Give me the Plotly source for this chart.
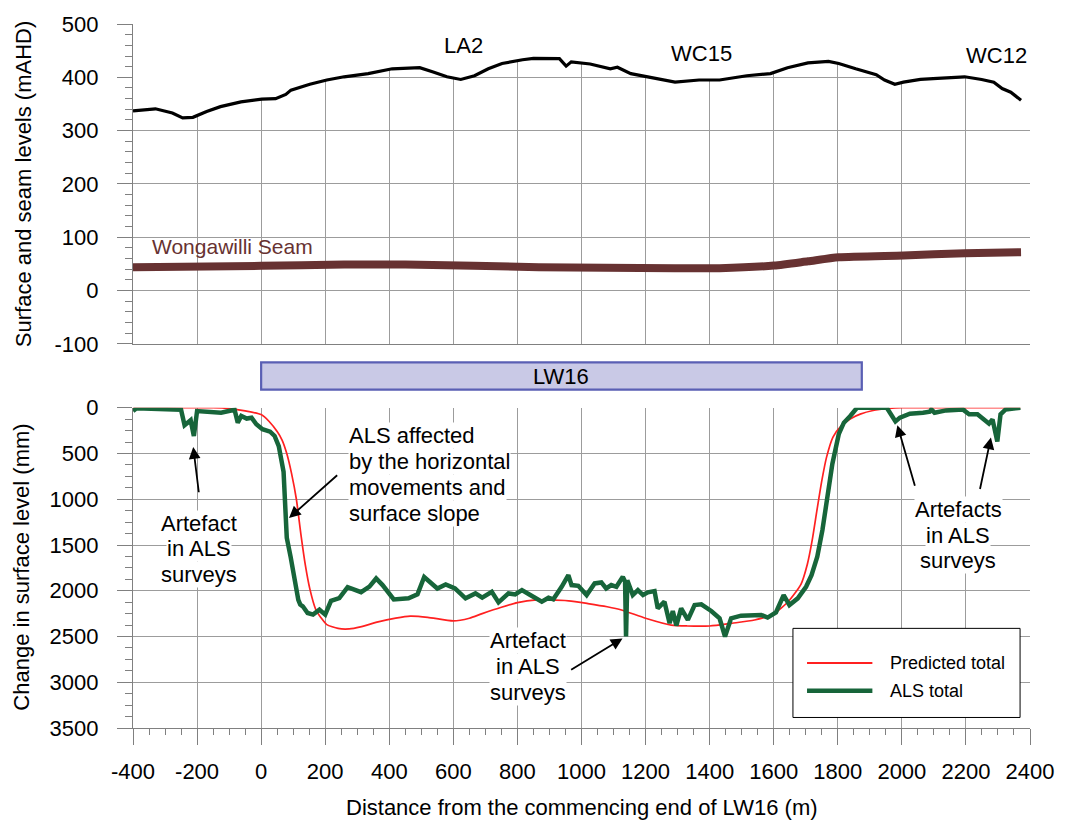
import plotly.graph_objects as go

# ---------------- data ----------------
# Surface profile along the centreline (mAHD)
surf_x = [-400, -373, -330, -277, -245, -213, -170, -127, -63, 2,
          45, 77, 93, 152, 205, 259, 334, 409, 495, 537,
          580, 623, 666, 709, 752, 816, 850, 931, 952, 968,
          1027, 1090, 1112, 1154, 1207, 1292, 1367, 1431, 1516, 1590,
          1643, 1707, 1771, 1803, 1856, 1920, 1946, 1978, 2005, 2058,
          2111, 2196, 2249, 2287, 2313, 2340, 2372]
surf_y = [337, 339, 341, 333, 324, 325, 336, 345, 354, 359,
          360, 368, 376, 387, 395, 401, 407, 416, 418, 410,
          401, 396, 403, 416, 426, 433, 435.5, 435, 421, 429,
          425, 416, 419, 407, 401, 391, 395, 395, 403, 407,
          418, 427, 430, 426, 416, 405, 395, 387, 391, 396,
          398, 401, 396, 391, 379, 372, 357]

# Wongawilli Seam floor level (mAHD)
seam_x = [-400, 0, 259, 450, 867, 1292, 1431, 1601, 1707, 1803, 2005, 2196, 2372]
seam_y = [44, 46.5, 49, 49, 44, 42, 42, 47, 55, 62.5, 66, 70, 72]

# Predicted total subsidence (mm)
pred_x = [-400, -150, -100, -50, 0, 25, 50, 65, 80, 95,
          110, 124, 138, 152, 170, 190, 205, 240, 275, 310,
          365, 420, 465, 520, 600, 650, 690, 750, 800, 860,
          900, 960, 1020, 1080, 1125, 1200, 1280, 1330, 1400, 1470,
          1540, 1600, 1645, 1685, 1705, 1720, 1735, 1750, 1765, 1785,
          1810, 1840, 1870, 1910, 1960, 2000, 2370]
pred_y = [0, 0, 10, 35, 75, 150, 260, 350, 500, 720,
          1000, 1380, 1720, 1980, 2200, 2310, 2370, 2412, 2417, 2395,
          2340, 2300, 2278, 2290, 2330, 2300, 2250, 2180, 2130, 2100,
          2100, 2110, 2140, 2175, 2210, 2300, 2375, 2385, 2385, 2355,
          2320, 2250, 2120, 1930, 1710, 1450, 1120, 800, 540, 320,
          200, 120, 70, 30, 8, 0, 0]

# ALS measured total subsidence (mm)
als_x = [-400, -389, -250, -239, -220, -210, -200, -170, -125, -83,
         -73, -62, -45, -30, -15, 4, 28, 42, 55, 70,
         76, 80, 92, 104, 116, 122, 130, 145, 162, 182,
         200, 218, 244, 270, 312, 338, 359, 379, 414, 460,
         488, 509, 524, 550, 576, 605, 638, 669, 690, 720,
         741, 772, 793, 814, 840, 876, 897, 912, 938, 959,
         969, 990, 1016, 1041, 1062, 1077, 1093, 1109, 1129, 1136,
         1139, 1143, 1160, 1176, 1192, 1207, 1228, 1238, 1259, 1275,
         1285, 1296, 1311, 1322, 1332, 1353, 1374, 1405, 1431, 1448,
         1467, 1498, 1561, 1581, 1607, 1631, 1649, 1675, 1701, 1718,
         1736, 1752, 1767, 1783, 1803, 1819, 1839, 1860, 1953, 1968,
         1980, 1994, 2025, 2066, 2087, 2092, 2102, 2138, 2190, 2210,
         2236, 2262, 2272, 2283, 2291, 2298, 2308, 2324, 2370]
als_y = [36, 5, 22, 190, 136, 308, 36, 45, 54, 22,
         163, 90, 118, 109, 181, 235, 262, 308, 420, 700,
         1040, 1420, 1630, 1880, 2100, 2150, 2170, 2243, 2261, 2207,
         2261, 2110, 2080, 1960, 2015, 1955, 1866, 1938, 2095, 2083,
         2040, 1850, 1902, 1975, 1931, 1975, 2083, 2029, 2076, 2011,
         2127, 2029, 2040, 1993, 2047, 2120, 2076, 2094, 1957, 1830,
         1938, 1946, 2047, 1920, 1909, 1975, 1938, 1957, 1848, 1900,
         2500, 1885, 2047, 1993, 2047, 2018, 2004, 2192, 2120, 2355,
         2221, 2380, 2192, 2264, 2319, 2156, 2149, 2221, 2301, 2500,
         2301, 2272, 2264, 2293, 2236, 2047, 2156, 2083, 1957, 1830,
         1627, 1338, 976, 615, 289, 163, 90, 0, 0, 90,
         150, 108, 65, 54, 43, 18, 54, 29, 18, 72,
         72, 145, 174, 127, 271, 370, 72, 18, 0]

# Longwall panel extent (m from commencing end)
panel_start, panel_end = 0, 1875

# Tick positions and labels
x_ticks = list(range(-400, 2401, 200))
x_ticktext = [str(v) for v in x_ticks]
top_ticks = list(range(-100, 501, 100))
top_ticktext = [str(v) for v in top_ticks]
bot_ticks = list(range(0, 3501, 500))
bot_ticktext = [str(v) for v in bot_ticks]

X_RANGE = [-400, 2400]
TOP_RANGE = [-100, 500]
BOT_RANGE = [3500, 0]

FONT = "Arial, 'Liberation Sans', sans-serif"
GRID = "#9c9c9c"
AXIS = "#808080"
GREEN = "#17653a"
RED = "#ff2020"
SEAM = "#673232"

TOP_DOMAIN = [0.5455, 1]
BOT_DOMAIN = [0, 0.4549]

fig = go.Figure()

# White mask above the ground profile so the grid only shows beneath it
mask_x = surf_x + [2430, 2430, -430, -430]
mask_y = surf_y + [surf_y[-1], 530, 530, surf_y[0]]
fig.add_trace(go.Scatter(x=mask_x, y=mask_y, mode="lines", fill="toself",
                         fillcolor="white", line=dict(width=0),
                         xaxis="x", yaxis="y", hoverinfo="skip"))

fig.add_trace(go.Scatter(x=seam_x, y=seam_y, mode="lines", name="Wongawilli Seam",
                         line=dict(color=SEAM, width=8, shape="spline", smoothing=0.6),
                         xaxis="x", yaxis="y"))
fig.add_trace(go.Scatter(x=surf_x, y=surf_y, mode="lines", name="Surface",
                         line=dict(color="black", width=3.2),
                         xaxis="x", yaxis="y"))

fig.add_trace(go.Scatter(x=pred_x, y=pred_y, mode="lines", name="Predicted total",
                         line=dict(color=RED, width=1.7, shape="spline", smoothing=0.6),
                         xaxis="x2", yaxis="y2"))
fig.add_trace(go.Scatter(x=als_x, y=als_y, mode="lines", name="ALS total",
                         line=dict(color=GREEN, width=4.5),
                         xaxis="x2", yaxis="y2"))

top_minor = [v for v in range(-100, 501, 20) if v % 100]
bot_minor = [v for v in range(0, 3501, 125) if v % 500]
x_minor = [v for v in range(-400, 2401, 50) if v % 200]

yaxis_common = dict(tickmode="array", ticks="outside", ticklen=15, tickwidth=1.3,
                    tickcolor=AXIS, ticklabelstandoff=14,
                    showgrid=True, gridcolor=GRID, gridwidth=1.2,
                    showline=True, linecolor=AXIS, linewidth=1.3, zeroline=False)

fig.update_layout(
    width=1066, height=823,
    margin=dict(l=133, r=32, t=18, b=95),
    plot_bgcolor="white", paper_bgcolor="white",
    font=dict(family=FONT, size=22, color="black"),
    showlegend=False,
    xaxis=dict(domain=[0, 1], anchor="y", range=X_RANGE, tickmode="array",
               tickvals=x_ticks, showticklabels=False, ticks="",
               showgrid=True, gridcolor=GRID, gridwidth=1.2,
               showline=True, linecolor=AXIS, linewidth=1.3, zeroline=False),
    yaxis=dict(domain=TOP_DOMAIN, anchor="x", range=TOP_RANGE,
               tickvals=top_ticks, ticktext=top_ticktext,
               minor=dict(tickvals=top_minor, ticks="outside", ticklen=7,
                          tickwidth=1.2, tickcolor=AXIS, showgrid=False),
               **yaxis_common),
    xaxis2=dict(domain=[0, 1], anchor="y2", range=X_RANGE, tickmode="array",
                tickvals=x_ticks, ticktext=x_ticktext,
                ticks="outside", ticklen=16, tickwidth=1.3, tickcolor=AXIS,
                ticklabelstandoff=7,
                showgrid=True, gridcolor=GRID, gridwidth=1.2,
                showline=True, linecolor=AXIS, linewidth=1.3, zeroline=False,
                minor=dict(tickvals=x_minor, ticks="outside", ticklen=6,
                           tickwidth=1.2, tickcolor=AXIS, showgrid=False)),
    yaxis2=dict(domain=BOT_DOMAIN, anchor="x2", range=BOT_RANGE,
                tickvals=bot_ticks, ticktext=bot_ticktext,
                minor=dict(tickvals=bot_minor, ticks="outside", ticklen=7,
                           tickwidth=1.2, tickcolor=AXIS, showgrid=False),
                **yaxis_common),
)

# Axis titles
fig.add_annotation(text="Surface and seam levels (mAHD)", xref="paper", yref="paper",
                   x=-0.1221, y=0.7732, textangle=-90, showarrow=False,
                   xanchor="center", yanchor="middle", font=dict(size=22))
fig.add_annotation(text="Change in surface level (mm)", xref="paper", yref="paper",
                   x=-0.1245, y=0.2282, textangle=-90, showarrow=False,
                   xanchor="center", yanchor="middle", font=dict(size=22))
fig.add_annotation(text="Distance from the commencing end of LW16 (m)", xref="paper",
                   yref="paper", x=0.5, y=-0.1127, showarrow=False,
                   xanchor="center", yanchor="middle", font=dict(size=22))

# Panel bar
fig.add_shape(type="rect", xref="x2", yref="paper", x0=panel_start, x1=panel_end,
              y0=0.4807, y1=0.5193, fillcolor="#c9c9e6",
              line=dict(color="#5a5fb4", width=2.2))
fig.add_annotation(text="LW16", xref="x2", yref="paper",
                   x=(panel_start + panel_end) / 2, y=0.5, showarrow=False,
                   xanchor="center", yanchor="middle", font=dict(size=22))

# Creek / feature labels on the surface profile
for label, lx, ly in [("LA2", 631, 460), ("WC15", 1376, 445), ("WC12", 2296, 441)]:
    fig.add_annotation(text=label, x=lx, y=ly, xref="x", yref="y", showarrow=False,
                       xanchor="center", yanchor="middle", font=dict(size=22))
fig.add_annotation(text="Wongawilli Seam", x=-347, y=82, xref="x", yref="y",
                   showarrow=False, xanchor="left", yanchor="middle",
                   font=dict(size=21, color=SEAM))


def text_block(lines, x, y, spacing=25.6, xanchor="center"):
    n = len(lines)
    for i, line in enumerate(lines):
        fig.add_annotation(text=line, x=x, y=y, xref="x2", yref="y2",
                           showarrow=False, xanchor=xanchor, yanchor="middle",
                           yshift=((n - 1) / 2 - i) * spacing,
                           font=dict(size=22), bgcolor="white", borderpad=0)


def arrow(tail_x, tail_y, head_x, head_y):
    fig.add_annotation(text="", x=head_x, y=head_y, ax=tail_x, ay=tail_y,
                       xref="x2", yref="y2", axref="x2", ayref="y2",
                       showarrow=True, arrowhead=2, arrowsize=1.3,
                       arrowwidth=1.8, arrowcolor="black")


text_block(["Artefact", "in ALS", "surveys"], -194, 1540)
arrow(-194, 940, -212, 430)

text_block(["ALS affected", "by the horizontal", "movements and", "surface slope"],
           271, 733, spacing=25.9, xanchor="left")
arrow(242, 723, 87, 1205)

text_block(["Artefact", "in ALS", "surveys"], 833, 2833, spacing=26)
arrow(963, 2874, 1128, 2522)

text_block(["Artefacts", "in ALS", "surveys"], 2176, 1392, spacing=25.5)
arrow(2042, 868, 1986, 190)
arrow(2243, 904, 2278, 325)

# Legend box
fig.add_shape(type="rect", xref="x2", yref="y2", x0=1660, x1=2369, y0=2411, y1=3385,
              fillcolor="white", line=dict(color="black", width=1), layer="above")
fig.add_shape(type="line", xref="x2", yref="y2", x0=1704, x1=1908, y0=2790, y1=2790,
              line=dict(color=RED, width=2), layer="above")
fig.add_shape(type="line", xref="x2", yref="y2", x0=1704, x1=1908, y0=3093, y1=3093,
              line=dict(color=GREEN, width=4.5), layer="above")
fig.add_annotation(text="Predicted total", x=1958, y=2790, xref="x2", yref="y2",
                   showarrow=False, xanchor="left", yanchor="middle", font=dict(size=18))
fig.add_annotation(text="ALS total", x=1958, y=3093, xref="x2", yref="y2",
                   showarrow=False, xanchor="left", yanchor="middle", font=dict(size=18))

fig.write_html("out.html")
